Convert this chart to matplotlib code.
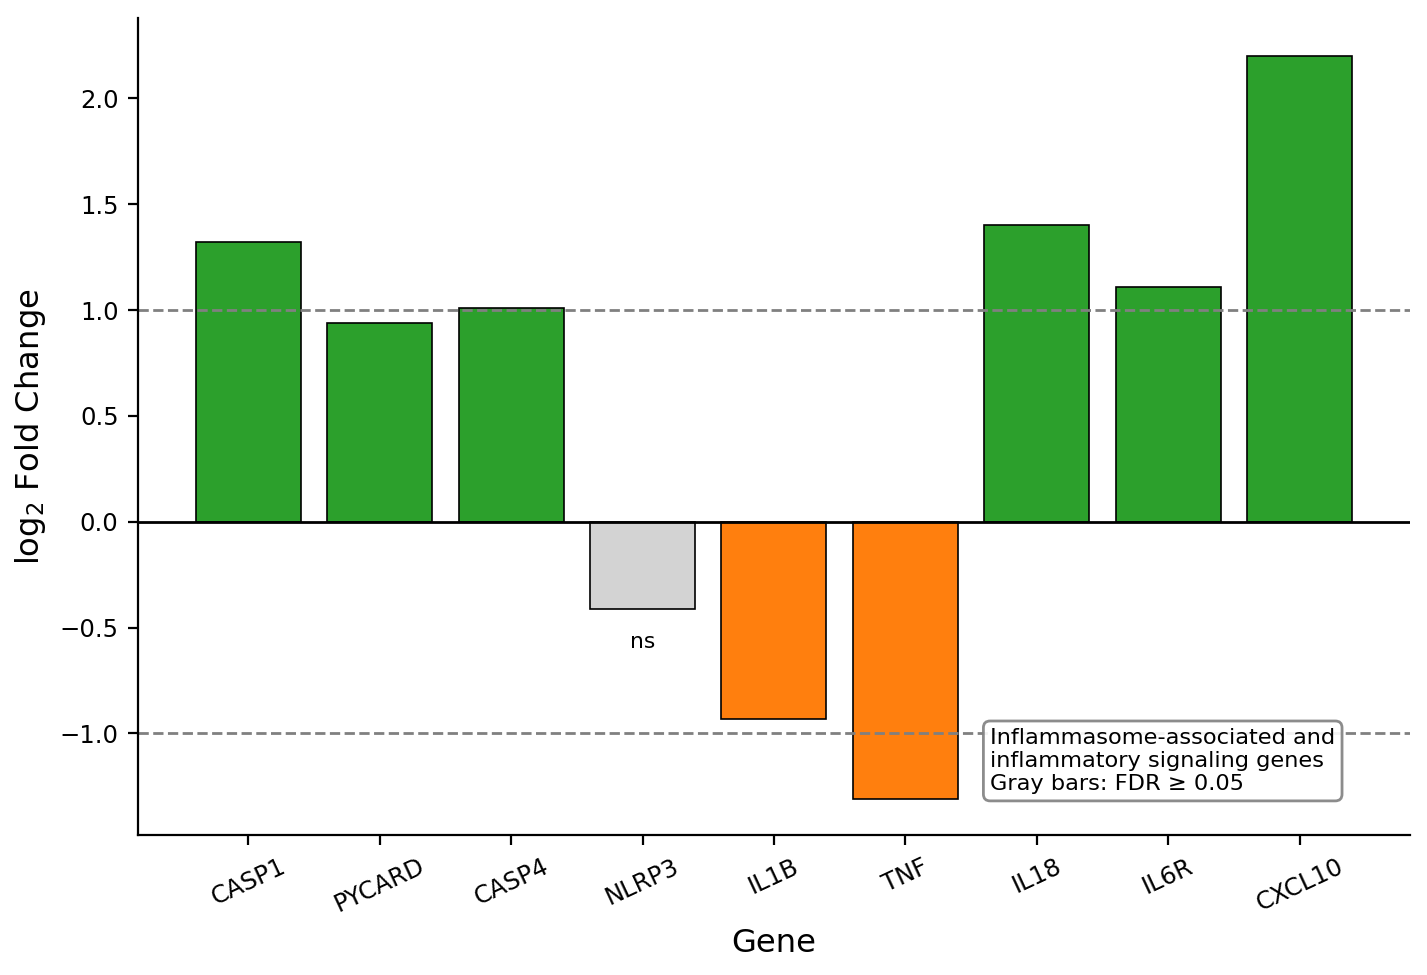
import matplotlib
matplotlib.use("Agg")
import matplotlib.pyplot as plt

# gene-level log2 fold changes
genes = ["CASP1", "PYCARD", "CASP4", "NLRP3", "IL1B", "TNF", "IL18", "IL6R", "CXCL10"]
log2fc = [1.32, 0.94, 1.01, -0.41, -0.93, -1.31, 1.40, 1.11, 2.20]
significant = [True, True, True, False, True, True, True, True, True]

colors = []
for v, sig in zip(log2fc, significant):
    if not sig:
        colors.append("lightgray")
    elif v > 0:
        colors.append("#2ca02c")
    else:
        colors.append("#ff7f0e")

fig, ax = plt.subplots(figsize=(7.135, 4.875), dpi=200)
fig.subplots_adjust(left=0.0967, right=0.988, top=0.9815, bottom=0.1436)

x = list(range(len(genes)))
ax.bar(x, log2fc, width=0.8, color=colors, edgecolor="black", linewidth=0.6)

ax.axhline(0, color="black", linewidth=1)
ax.axhline(1, color="gray", linestyle="--", linewidth=1)
ax.axhline(-1, color="gray", linestyle="--", linewidth=1)

for i, (v, sig) in enumerate(zip(log2fc, significant)):
    if not sig:
        ax.text(i, v - 0.11, "ns", ha="center", va="top", fontsize=7.9)

ax.set_xticks(x)
ax.set_xticklabels(genes, rotation=25)
ax.tick_params(labelsize=8.75)
ax.set_ylim(-1.48, 2.38)
ax.set_xlabel("Gene", fontsize=11.6)
ax.set_ylabel("log$_2$ Fold Change", fontsize=11.6)

ax.spines["top"].set_visible(False)
ax.spines["right"].set_visible(False)

ax.text(0.67, 0.05, "Inflammasome-associated and\ninflammatory signaling genes\nGray bars: FDR \u2265 0.05",
        transform=ax.transAxes, ha="left", va="bottom", fontsize=8.1,
        bbox=dict(boxstyle="round,pad=0.3", facecolor="white", edgecolor="gray", alpha=0.9))

fig.savefig("out.png", dpi=200)
